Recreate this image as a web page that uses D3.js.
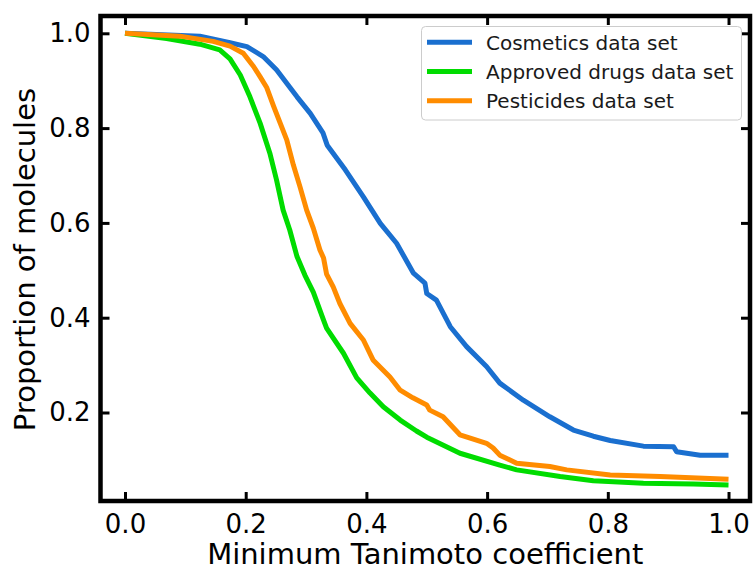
<!DOCTYPE html>
<html>
<head>
<meta charset="utf-8">
<script src="https://cdn.jsdelivr.net/npm/d3@7"></script>
<style>
  html, body { margin: 0; padding: 0; background: #ffffff; }
  svg { display: block; font-family: "DejaVu Sans", sans-serif; }
</style>
</head>
<body>
<svg id="chart" width="754" height="569"></svg>
<script>
// Cumulative share of molecules whose minimum Tanimoto coefficient exceeds x
const cosmeticsX = [0, 0.124, 0.174, 0.202, 0.229, 0.251, 0.285, 0.307, 0.328, 0.335, 0.365, 0.395, 0.423, 0.450, 0.478, 0.497, 0.500, 0.516, 0.539, 0.566, 0.599, 0.621, 0.660, 0.704, 0.743, 0.776, 0.804, 0.859, 0.909, 0.914, 0.953, 1.0];
const cosmeticsY = [1.0, 0.994, 0.980, 0.972, 0.951, 0.923, 0.866, 0.831, 0.790, 0.764, 0.712, 0.655, 0.599, 0.557, 0.494, 0.473, 0.451, 0.437, 0.381, 0.339, 0.297, 0.262, 0.226, 0.191, 0.163, 0.150, 0.141, 0.129, 0.128, 0.117, 0.110, 0.110];

const drugsX = [0, 0.069, 0.124, 0.157, 0.174, 0.191, 0.207, 0.224, 0.240, 0.251, 0.262, 0.273, 0.285, 0.298, 0.312, 0.329, 0.334, 0.362, 0.384, 0.406, 0.428, 0.456, 0.483, 0.500, 0.555, 0.621, 0.649, 0.721, 0.776, 0.859, 0.942, 1.0];
const drugsY = [1.0, 0.989, 0.977, 0.965, 0.946, 0.912, 0.866, 0.810, 0.747, 0.691, 0.627, 0.585, 0.529, 0.490, 0.454, 0.395, 0.378, 0.325, 0.273, 0.241, 0.212, 0.184, 0.161, 0.148, 0.114, 0.089, 0.079, 0.065, 0.056, 0.051, 0.049, 0.047];

const pesticidesX = [0, 0.091, 0.146, 0.174, 0.196, 0.213, 0.224, 0.235, 0.246, 0.257, 0.268, 0.279, 0.290, 0.301, 0.312, 0.323, 0.329, 0.334, 0.345, 0.356, 0.373, 0.395, 0.411, 0.439, 0.456, 0.477, 0.500, 0.505, 0.527, 0.555, 0.572, 0.599, 0.610, 0.621, 0.649, 0.704, 0.732, 0.804, 0.887, 1.0];
const pesticidesY = [1.0, 0.994, 0.983, 0.973, 0.958, 0.930, 0.908, 0.885, 0.847, 0.811, 0.775, 0.722, 0.676, 0.627, 0.589, 0.543, 0.526, 0.492, 0.465, 0.430, 0.388, 0.353, 0.311, 0.275, 0.247, 0.231, 0.216, 0.205, 0.191, 0.153, 0.146, 0.135, 0.125, 0.110, 0.093, 0.086, 0.079, 0.068, 0.065, 0.059];

const seriesNames = ["Cosmetics data set", "Approved drugs data set", "Pesticides data set"];
const seriesColors = ["#1a6fcf", "#00dc00", "#ff8c00"];

const xTicks = [0.0, 0.2, 0.4, 0.6, 0.8, 1.0];
const yTicks = [0.2, 0.4, 0.6, 0.8, 1.0];

const svg = d3.select("#chart");
const plotLeft = 100.5, plotRight = 750, plotTop = 16, plotBottom = 501;

const x = d3.scaleLinear().domain([-0.0406, 1.0356]).range([plotLeft, plotRight]);
const y = d3.scaleLinear().domain([0.0133, 1.0365]).range([plotBottom, plotTop]);

const fmt = d3.format(".1f");
const tickLen = 9;

// Axes with inward ticks on all four sides
function styleAxis(g) {
  g.select(".domain").remove();
  g.selectAll(".tick line").attr("stroke", "#000").attr("stroke-width", 3);
}
svg.append("g").attr("transform", `translate(0,${plotBottom})`)
  .call(d3.axisBottom(x).tickValues(xTicks).tickFormat(fmt).tickSizeInner(-tickLen).tickSizeOuter(0).tickPadding(14))
  .call(styleAxis)
  .call(g => g.selectAll(".tick text").attr("font-size", 26).attr("fill", "#000")
    .attr("font-family", "DejaVu Sans").attr("dy", "0.71em"));
svg.append("g").attr("transform", `translate(0,${plotTop})`)
  .call(d3.axisTop(x).tickValues(xTicks).tickFormat("").tickSizeInner(-tickLen).tickSizeOuter(0))
  .call(styleAxis);
svg.append("g").attr("transform", `translate(${plotLeft},0)`)
  .call(d3.axisLeft(y).tickValues(yTicks).tickFormat(fmt).tickSizeInner(-tickLen).tickSizeOuter(0).tickPadding(10))
  .call(styleAxis)
  .call(g => g.selectAll(".tick text").attr("font-size", 26).attr("fill", "#000")
    .attr("font-family", "DejaVu Sans"));
svg.append("g").attr("transform", `translate(${plotRight},0)`)
  .call(d3.axisRight(y).tickValues(yTicks).tickFormat("").tickSizeInner(-tickLen).tickSizeOuter(0))
  .call(styleAxis);

// Curves clipped to the plotting area
svg.append("clipPath").attr("id", "plot-clip")
  .append("rect").attr("x", plotLeft).attr("y", plotTop).attr("width", plotRight - plotLeft).attr("height", plotBottom - plotTop);

const line = d3.line().x(d => x(d[0])).y(d => y(d[1]));
const series = [
  d3.zip(cosmeticsX, cosmeticsY),
  d3.zip(drugsX, drugsY),
  d3.zip(pesticidesX, pesticidesY)
];
svg.append("g").attr("clip-path", "url(#plot-clip)")
  .selectAll("path").data([0, 1, 2]).join("path")
  .attr("d", i => line(series[i]))
  .attr("fill", "none")
  .attr("stroke", i => seriesColors[i])
  .attr("stroke-width", 5)
  .attr("stroke-linejoin", "round");

// Frame
svg.append("rect")
  .attr("x", plotLeft).attr("y", plotTop).attr("width", plotRight - plotLeft).attr("height", plotBottom - plotTop)
  .attr("fill", "none").attr("stroke", "#000").attr("stroke-width", 4.5);

// Axis titles
svg.append("text")
  .attr("x", (plotLeft + plotRight) / 2).attr("y", 564)
  .attr("text-anchor", "middle").attr("font-size", 29).attr("fill", "#000")
  .text("Minimum Tanimoto coefficient");
svg.append("text")
  .attr("transform", `translate(35,${(plotTop + plotBottom) / 2 + 1}) rotate(-90)`)
  .attr("text-anchor", "middle").attr("font-size", 29).attr("fill", "#000")
  .text("Proportion of molecules");

// Legend
const legend = svg.append("g");
legend.append("rect")
  .attr("x", 421.5).attr("y", 26.5).attr("width", 320).attr("height", 93.5)
  .attr("rx", 4).attr("fill", "#fff").attr("fill-opacity", 0.8)
  .attr("stroke", "#cccccc").attr("stroke-width", 1);
const rows = legend.selectAll("g.row").data(seriesNames).join("g")
  .attr("class", "row")
  .attr("transform", (d, i) => `translate(0,${42.3 + i * 29.2})`);
rows.append("line")
  .attr("x1", 427).attr("x2", 472).attr("y1", 0).attr("y2", 0)
  .attr("stroke", (d, i) => seriesColors[i]).attr("stroke-width", 5);
rows.append("text")
  .attr("x", 486).attr("y", 0).attr("dy", "0.36em")
  .attr("font-size", 20).attr("fill", "#1a1a1a")
  .text(d => d);
</script>
</body>
</html>
